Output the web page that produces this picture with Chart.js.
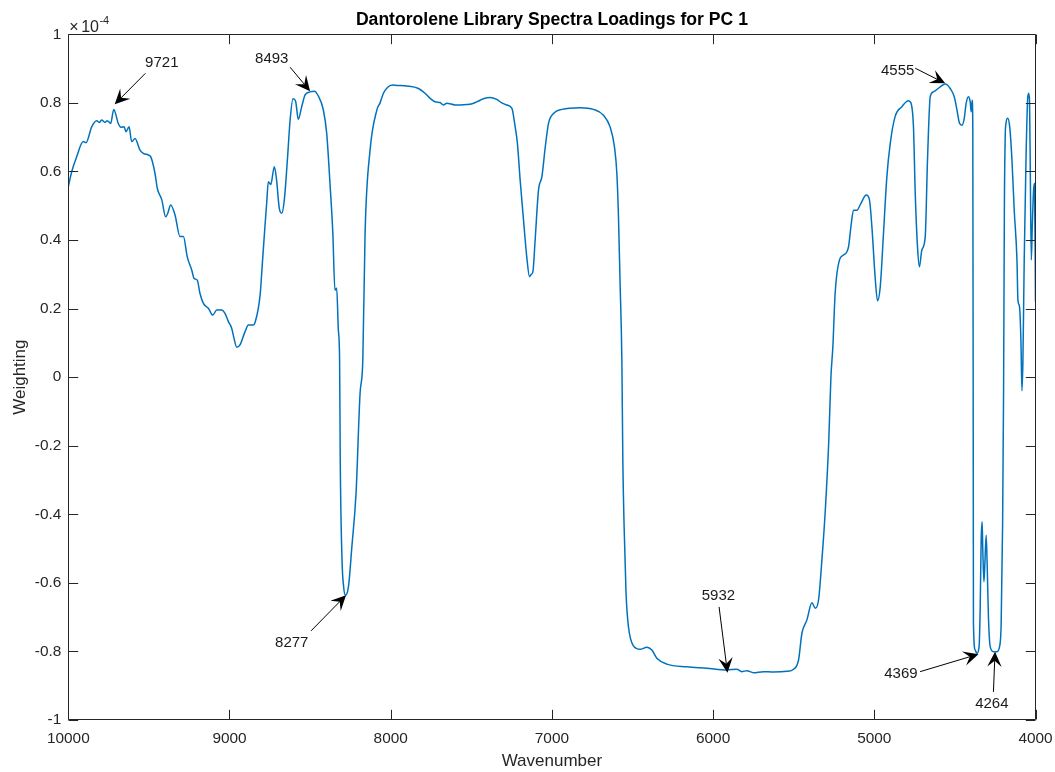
<!DOCTYPE html>
<html>
<head>
<meta charset="utf-8">
<script src="https://cdn.jsdelivr.net/npm/chart.js@4.4.0/dist/chart.umd.min.js"></script>
<style>
  html, body { margin: 0; padding: 0; background: #ffffff; }
  #wrap { width: 1055px; height: 772px; }
  canvas { display: block; }
</style>
</head>
<body>
<div id="wrap"><canvas id="c" width="1055" height="772" style="width:1055px;height:772px"></canvas></div>
<script>
// ---------------- data (weighting in units of 1e-4) ----------------
const chartTitle = 'Dantorolene Library Spectra Loadings for PC 1';
const xAxisTitle = 'Wavenumber';
const yAxisTitle = 'Weighting';
const yExponent = '-4';

const xTicks = [10000, 9000, 8000, 7000, 6000, 5000, 4000];
const yTicks = [-1, -0.8, -0.6, -0.4, -0.2, 0, 0.2, 0.4, 0.6, 0.8, 1];

const wavenumber = [
  10000, 9979, 9948, 9907, 9890, 9855, 9824, 9808, 9793, 9772, 9758, 9737, 9718, 9690, 9673, 9654,
  9642, 9623, 9607, 9586, 9555, 9535, 9504, 9489, 9462, 9448, 9420, 9396, 9383, 9365, 9338, 9307,
  9286, 9262, 9234, 9220, 9200, 9183, 9162, 9131, 9104, 9079, 9048, 9028, 9007, 8986, 8972, 8955,
  8935, 8904, 8883, 8852, 8841, 8810, 8795, 8780, 8769, 8759, 8744, 8722, 8709, 8691, 8676, 8660,
  8640, 8624, 8606, 8590, 8573, 8552, 8531, 8500, 8474, 8449, 8418, 8397, 8376, 8359, 8346, 8335,
  8325, 8317, 8313, 8302, 8292, 8281, 8262, 8241, 8215, 8190, 8173, 8159, 8128, 8086, 8066, 8045,
  8020, 7990, 7962, 7900, 7828, 7787, 7755, 7724, 7694, 7673, 7652, 7601, 7508, 7466, 7425, 7383,
  7342, 7311, 7280, 7248, 7228, 7214, 7197, 7176, 7156, 7139, 7128, 7118, 7104, 7083, 7062, 7041,
  7021, 6990, 6938, 6825, 6742, 6680, 6639, 6612, 6597, 6587, 6577, 6566, 6560, 6552, 6540, 6525,
  6494, 6453, 6411, 6380, 6349, 6287, 6163, 6039, 5915, 5853, 5822, 5791, 5750, 5688, 5626, 5542,
  5501, 5470, 5449, 5418, 5387, 5366, 5346, 5325, 5304, 5283, 5269, 5257, 5243, 5216, 5191, 5160,
  5145, 5129, 5108, 5083, 5050, 5030, 5015, 4995, 4980, 4963, 4943, 4922, 4901, 4871, 4829, 4788,
  4773, 4757, 4746, 4732, 4720, 4705, 4684, 4670, 4653, 4633, 4591, 4560, 4529, 4504, 4487, 4471,
  4456, 4442, 4430, 4416, 4405, 4399, 4393, 4389, 4386, 4385, 4374, 4364, 4350, 4343, 4337, 4331,
  4327, 4320, 4314, 4306, 4300, 4292, 4281, 4260, 4240, 4223, 4213, 4204, 4198, 4193, 4188, 4183,
  4173, 4160, 4146, 4132, 4115, 4109, 4099, 4090, 4084, 4078, 4070, 4059, 4049, 4043, 4037, 4032,
  4026, 4020, 4012, 4006, 4000
];

const weighting = [
  0.555, 0.599, 0.643, 0.687, 0.684, 0.730, 0.748, 0.743, 0.750, 0.743, 0.748, 0.740, 0.781, 0.740, 0.729, 0.730,
  0.716, 0.730, 0.687, 0.696, 0.662, 0.653, 0.648, 0.643, 0.594, 0.551, 0.517, 0.468, 0.478, 0.502, 0.473, 0.410,
  0.410, 0.351, 0.312, 0.288, 0.283, 0.244, 0.215, 0.201, 0.181, 0.196, 0.196, 0.186, 0.162, 0.142, 0.113, 0.087,
  0.094, 0.132, 0.152, 0.152, 0.160, 0.240, 0.340, 0.440, 0.510, 0.570, 0.562, 0.614, 0.580, 0.492, 0.478, 0.517,
  0.640, 0.750, 0.812, 0.805, 0.752, 0.789, 0.823, 0.832, 0.834, 0.820, 0.780, 0.711, 0.560, 0.420, 0.254, 0.259,
  0.140, 0.050, -0.242, -0.533, -0.611, -0.636, -0.611, -0.495, -0.339, -0.047, 0.050, 0.419, 0.662, 0.779, 0.800, 0.828,
  0.845, 0.852, 0.851, 0.849, 0.842, 0.828, 0.813, 0.803, 0.801, 0.794, 0.799, 0.794, 0.796, 0.803, 0.812, 0.816,
  0.810, 0.800, 0.794, 0.784, 0.730, 0.682, 0.575, 0.458, 0.351, 0.293, 0.300, 0.307, 0.400, 0.546, 0.585, 0.672,
  0.740, 0.769, 0.781, 0.786, 0.781, 0.764, 0.730, 0.672, 0.594, 0.468, 0.274, 0.050, -0.242, -0.436, -0.631, -0.728,
  -0.784, -0.794, -0.788, -0.796, -0.820, -0.837, -0.845, -0.849, -0.854, -0.852, -0.859, -0.856, -0.862, -0.859, -0.860, -0.858,
  -0.852, -0.825, -0.747, -0.708, -0.658, -0.674, -0.650, -0.533, -0.388, -0.193, 0.001, 0.089, 0.244, 0.342, 0.356, 0.380,
  0.439, 0.487, 0.487, 0.507, 0.531, 0.517, 0.439, 0.293, 0.223, 0.264, 0.419, 0.585, 0.682, 0.760, 0.789, 0.806,
  0.800, 0.730, 0.536, 0.380, 0.322, 0.371, 0.410, 0.633, 0.818, 0.832, 0.847, 0.855, 0.842, 0.818, 0.779, 0.740,
  0.735, 0.755, 0.799, 0.818, 0.803, 0.774, 0.808, 0.730, -0.300, -0.718, -0.796, -0.806, -0.786, -0.670, -0.475, -0.422,
  -0.504, -0.597, -0.543, -0.461, -0.543, -0.699, -0.786, -0.801, -0.801, -0.786, -0.718, -0.427, -0.038, 0.500, 0.700, 0.740,
  0.755, 0.730, 0.633, 0.487, 0.342, 0.225, 0.205, 0.099, -0.040, 0.050, 0.342, 0.633, 0.808, 0.828, 0.808, 0.585,
  0.342, 0.439, 0.546, 0.565, 0.220
];

// peak annotations: label, text anchor, arrow tail, arrow tip (data units)
const peakLabels = ['9721', '8493', '8277', '5932', '4555', '4369', '4264'];
const labelX = [9420, 8738, 8614, 5967, 4855, 4835, 4271];
const labelY = [0.918, 0.928, -0.776, -0.638, 0.893, -0.866, -0.953];
const tailX  = [9522, 8624, 8494, 5963, 4746, 4716, 4261];
const tailY  = [0.886, 0.904, -0.740, -0.670, 0.901, -0.859, -0.918];
const tipX   = [9712, 8500, 8277, 5911, 4560, 4354, 4251];
const tipY   = [0.796, 0.834, -0.636, -0.862, 0.857, -0.808, -0.801];

// ---------------- drawing ----------------
const FONT = '"Liberation Sans", Arial, Helvetica, sans-serif';
const AXIS_COLOR = '#262626';

function drawArrow(ctx, x1, y1, x2, y2) {
  const ang = Math.atan2(y2 - y1, x2 - x1);
  const L = 15, W = 7.2, notch = 0.6;
  const c = Math.cos(ang), s = Math.sin(ang);
  const nx = -s, ny = c;
  const bx = x2 - c * L, by = y2 - s * L;
  const mx = x2 - c * L * notch, my = y2 - s * L * notch;
  ctx.beginPath();
  ctx.moveTo(x1, y1);
  ctx.lineTo(mx, my);
  ctx.stroke();
  ctx.beginPath();
  ctx.moveTo(x2, y2);
  ctx.lineTo(bx + nx * W, by + ny * W);
  ctx.lineTo(mx, my);
  ctx.lineTo(bx - nx * W, by - ny * W);
  ctx.closePath();
  ctx.fill();
}

const decor = {
  id: 'decor',
  afterDraw(chart) {
    const { ctx, chartArea: a, scales: { x, y } } = chart;
    ctx.save();
    // box
    ctx.strokeStyle = AXIS_COLOR;
    ctx.lineWidth = 1;
    const L = Math.round(a.left) + 0.5, R = Math.round(a.right) - 0.5;
    const T = Math.round(a.top) + 0.5, B = Math.round(a.bottom) - 0.5;
    ctx.beginPath();
    ctx.rect(L, T, R - L, B - T);
    ctx.stroke();
    // inward tick marks on all four sides
    const TL = 9.7;
    ctx.beginPath();
    x.ticks.forEach(t => {
      const px = Math.round(x.getPixelForValue(t.value)) + 0.5;
      ctx.moveTo(px, B); ctx.lineTo(px, B - TL);
      ctx.moveTo(px, T); ctx.lineTo(px, T + TL);
    });
    y.ticks.forEach(t => {
      const py = Math.round(y.getPixelForValue(t.value)) + 0.5;
      ctx.moveTo(L, py); ctx.lineTo(L + TL, py);
      ctx.moveTo(R, py); ctx.lineTo(R - TL, py);
    });
    ctx.stroke();

    // chart title
    ctx.fillStyle = '#000000';
    ctx.font = 'bold 17.6px ' + FONT;
    ctx.textAlign = 'center';
    ctx.textBaseline = 'middle';
    ctx.fillText(chartTitle, (a.left + a.right) / 2, 20.5);

    // axis titles
    ctx.fillStyle = AXIS_COLOR;
    ctx.font = '17px ' + FONT;
    ctx.fillText(xAxisTitle, (a.left + a.right) / 2, 761.5);
    ctx.save();
    ctx.translate(20, (a.top + a.bottom) / 2);
    ctx.rotate(-Math.PI / 2);
    ctx.fillText(yAxisTitle, 0, 0);
    ctx.restore();

    // exponent label
    ctx.textAlign = 'left';
    ctx.textBaseline = 'alphabetic';
    ctx.font = '16px ' + FONT;
    ctx.fillText('\u00d7', a.left + 1, 31.5);
    const wx = ctx.measureText('\u00d7').width;
    ctx.fillText('10', a.left + 1 + wx + 2.5, 31.5);
    const w10 = ctx.measureText('10').width;
    ctx.font = '11px ' + FONT;
    ctx.fillText(yExponent, a.left + 1 + wx + 2.5 + w10 + 0.5, 23.5);

    // peak annotations
    ctx.strokeStyle = '#000000';
    ctx.fillStyle = '#000000';
    ctx.lineWidth = 1;
    for (let i = 0; i < peakLabels.length; i++) {
      drawArrow(ctx,
        x.getPixelForValue(tailX[i]), y.getPixelForValue(tailY[i]),
        x.getPixelForValue(tipX[i]), y.getPixelForValue(tipY[i]));
    }
    ctx.fillStyle = '#1a1a1a';
    ctx.font = '15px ' + FONT;
    ctx.textAlign = 'center';
    ctx.textBaseline = 'middle';
    for (let i = 0; i < peakLabels.length; i++) {
      ctx.fillText(peakLabels[i], x.getPixelForValue(labelX[i]), y.getPixelForValue(labelY[i]));
    }
    ctx.restore();
  }
};

const points = wavenumber.map((w, i) => ({ x: w, y: weighting[i] }));

new Chart(document.getElementById('c').getContext('2d'), {
  type: 'scatter',
  data: {
    datasets: [{
      data: points,
      showLine: true,
      borderColor: '#0072BD',
      backgroundColor: '#0072BD',
      borderWidth: 1.5,
      pointRadius: 0,
      pointHoverRadius: 0,
      cubicInterpolationMode: 'monotone',
      fill: false
    }]
  },
  options: {
    responsive: false,
    maintainAspectRatio: false,
    animation: false,
    devicePixelRatio: 1,
    events: [],
    layout: { padding: { top: 34.3, right: 19.5, left: 0, bottom: 0 } },
    plugins: { legend: { display: false }, tooltip: { enabled: false }, title: { display: false } },
    scales: {
      x: {
        type: 'linear',
        reverse: true,
        min: 4000,
        max: 10000,
        afterBuildTicks: s => { s.ticks = xTicks.map(v => ({ value: v })); },
        afterFit: s => { s.height = 52; s.paddingLeft = 0; s.paddingRight = 0; },
        grid: { display: false, drawTicks: false },
        border: { display: false },
        ticks: {
          autoSkip: false, maxRotation: 0, padding: 10,
          color: AXIS_COLOR, font: { family: FONT, size: 15.4 },
          callback: v => String(v)
        }
      },
      y: {
        type: 'linear',
        min: -1,
        max: 1,
        afterBuildTicks: s => { s.ticks = yTicks.map(v => ({ value: v })); },
        afterFit: s => { s.width = 68.3; s.paddingTop = 0; s.paddingBottom = 0; },
        grid: { display: false, drawTicks: false },
        border: { display: false },
        ticks: {
          autoSkip: false, padding: 7,
          color: AXIS_COLOR, font: { family: FONT, size: 15.4 },
          callback: v => String(Math.round(v * 10) / 10)
        }
      }
    }
  },
  plugins: [decor]
});
</script>
</body>
</html>
